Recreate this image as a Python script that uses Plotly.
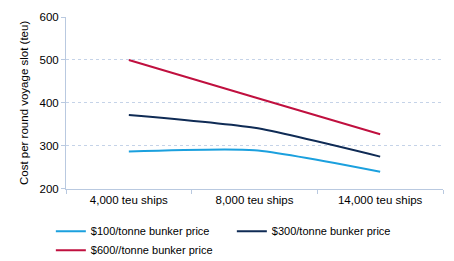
import plotly.graph_objects as go

categories = ["4,000 teu ships", "8,000 teu ships", "14,000 teu ships"]
series_names = ["$100/tonne bunker price", "$300/tonne bunker price", "$600//tonne bunker price"]
price_100 = [287, 290, 240]
price_300 = [372, 342, 275]
price_600 = [500, 413, 327]
colors = ["#1BA0DE", "#0F2B55", "#C0103F"]
y_ticks = [200, 300, 400, 500, 600]

fig = go.Figure()
for name, vals, c in zip(series_names, [price_100, price_300, price_600], colors):
    fig.add_trace(go.Scatter(x=categories, y=vals, name=name, mode="lines",
                             line=dict(color=c, width=2, shape="spline", smoothing=0.6)))

fig.update_layout(
    width=454, height=261,
    margin=dict(l=66, r=11, t=15, b=71),
    paper_bgcolor="white", plot_bgcolor="white",
    font=dict(family="Liberation Sans, Arial, sans-serif", size=11, color="#000000"),
    showlegend=True,
    legend=dict(orientation="h", xref="container", x=0.112, xanchor="left",
                yref="container", y=0.17, yanchor="top",
                entrywidth=136, entrywidthmode="pixels", tracegroupgap=0,
                font=dict(size=11), itemwidth=30),
    xaxis=dict(type="category", showgrid=False, showline=True, linecolor="#B9C9E0", linewidth=1,
               ticks="outside", tickson="boundaries", ticklen=4, tickcolor="#B9C9E0",
               tickfont=dict(size=11.5), range=[-0.5, 2.5]),
    yaxis=dict(range=[200, 600], tickvals=y_ticks, showgrid=True, gridcolor="#C5D3E8",
               griddash="dot", gridwidth=1, showline=True, linecolor="#B9C9E0", linewidth=1,
               ticks="outside", ticklen=4, tickcolor="#B9C9E0", tickfont=dict(size=11.5),
               title=dict(text="Cost per round voyage slot (teu)", font=dict(size=11.5), standoff=8),
               zeroline=False),
)
fig.write_html("out.html")
